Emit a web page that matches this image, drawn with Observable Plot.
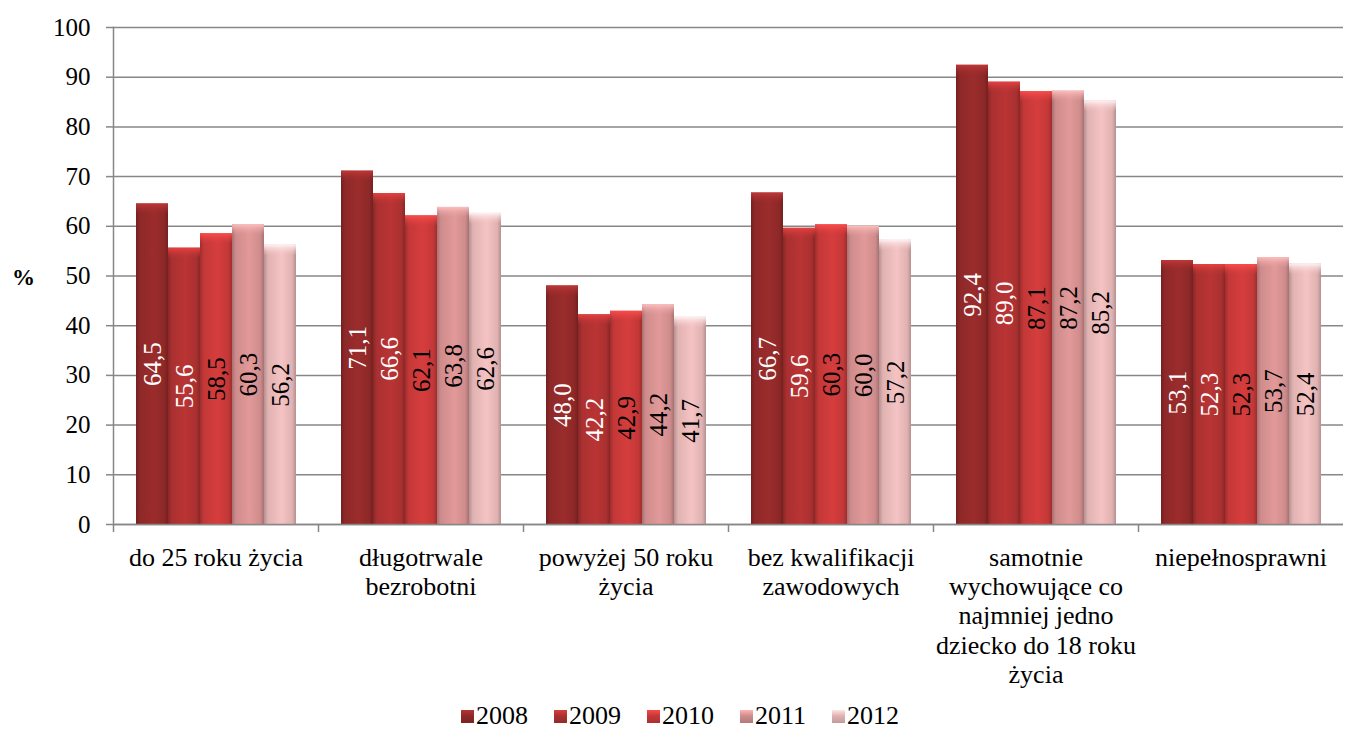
<!DOCTYPE html>
<html>
<head>
<meta charset="utf-8">
<script src="https://cdn.jsdelivr.net/npm/d3@7"></script>
<script src="https://cdn.jsdelivr.net/npm/@observablehq/plot@0.6"></script>
<style>
  html, body { margin: 0; padding: 0; background: #fff; overflow: hidden; }
  body { font-family: "Liberation Serif", "Times New Roman", Times, "DejaVu Serif", serif; }
  #wrap { position: relative; width: 1346px; }
  #pct { position: absolute; left: 12px; top: 265px; font-weight: bold; font-size: 23px; }
  #legend { display: flex; justify-content: center; align-items: center; gap: 26px; font-size: 26px; margin-top: 6px; padding-left: 14px; }
  #legend .item { display: flex; align-items: center; gap: 2px; }
  #legend .sw { width: 13px; height: 13px; display: inline-block; }
</style>
</head>
<body>
<svg width="0" height="0" style="position:absolute">
  <defs id="defs"></defs>
</svg>
<div id="wrap">
  <div id="chart"></div>
  <div id="pct">%</div>
  <div id="legend"></div>
</div>
<script>
// ---- data ----
const categories = [
  "do 25 roku życia",
  "długotrwale\nbezrobotni",
  "powyżej 50 roku\nżycia",
  "bez kwalifikacji\nzawodowych",
  "samotnie\nwychowujące co\nnajmniej jedno\ndziecko do 18 roku\nżycia",
  "niepełnosprawni"
];
const years = ["2008", "2009", "2010", "2011", "2012"];
const v2008 = [64.5, 71.1, 48.0, 66.7, 92.4, 53.1];
const v2009 = [55.6, 66.6, 42.2, 59.6, 89.0, 52.3];
const v2010 = [58.5, 62.1, 42.9, 60.3, 87.1, 52.3];
const v2011 = [60.3, 63.8, 44.2, 60.0, 87.2, 53.7];
const v2012 = [56.2, 62.6, 41.7, 57.2, 85.2, 52.4];
const yTicks = [0, 10, 20, 30, 40, 50, 60, 70, 80, 90, 100];

// ---- styles ----
const baseColors = {"2008": "#8e2828", "2009": "#aa3030", "2010": "#c43838", "2011": "#cf8c8c", "2012": "#e0b2b2"};
const labelColors = {"2008": "white", "2009": "white", "2010": "black", "2011": "black", "2012": "black"};
const gridColor = "#878787";
const serif = "'Liberation Serif', 'Times New Roman', Times, 'DejaVu Serif', serif";

const series = [v2008, v2009, v2010, v2011, v2012];
const data = [];
categories.forEach((c, i) => years.forEach((y, j) => data.push({cat: c, year: y, value: series[j][i]})));

// gradients
const defs = d3.select("#defs");
years.forEach(y => {
  const c = d3.color(baseColors[y]);
  const dark = c.darker(0.6).formatHex();
  const light = c.brighter(0.25).formatHex();
  const g = defs.append("linearGradient").attr("id", "g" + y).attr("x1", 0).attr("x2", 1).attr("y1", 0).attr("y2", 0);
  [[0, dark], [0.12, c.formatHex()], [0.55, light], [0.88, c.formatHex()], [1, dark]].forEach(([o, col]) =>
    g.append("stop").attr("offset", o).attr("stop-color", col));
  const t = defs.append("linearGradient").attr("id", "t" + y).attr("x1", 0).attr("x2", 0).attr("y1", 0).attr("y2", 1);
  t.append("stop").attr("offset", 0).attr("stop-color", c.brighter(0.9).formatHex()).attr("stop-opacity", 0.95);
  t.append("stop").attr("offset", 1).attr("stop-color", c.brighter(0.3).formatHex()).attr("stop-opacity", 0);
});

const fmt = v => v.toFixed(1).replace(".", ",");

const plot = Plot.plot({
  width: 1346,
  height: 695,
  marginLeft: 113,
  marginRight: 3,
  marginTop: 27,
  marginBottom: 171,
  style: {fontFamily: serif, fontSize: "24px", color: "#000", background: "transparent"},
  fx: {domain: categories, padding: 0, axis: null, label: null},
  x: {domain: years, paddingInner: 0, paddingOuter: 0.66, axis: null, label: null},
  y: {domain: [0, 100], axis: null, label: null},
  color: {type: "identity"},
  marks: [
    Plot.gridY({ticks: yTicks, stroke: gridColor, strokeOpacity: 1, strokeWidth: 1.5}),
    Plot.axisY({ticks: yTicks, label: null, tickSize: 7, tickPadding: 16, stroke: gridColor, strokeWidth: 1.5, fontSize: 25, fontFamily: serif, tickFormat: d => String(d)}),
    Plot.frame({anchor: "left", facetAnchor: "left", stroke: gridColor, strokeWidth: 1.5}),
    Plot.barY(data, {fx: "cat", x: "year", y: "value", fill: d => `url(#g${d.year})`}),
    Plot.barY(data, {fx: "cat", x: "year", y1: d => d.value - 2.2, y2: "value", fill: d => `url(#t${d.year})`}),
    Plot.ruleY([0], {stroke: gridColor, strokeWidth: 1.5}),
    Plot.text(data, {fx: "cat", x: "year", y: d => d.value / 2, text: d => fmt(d.value), rotate: -90, fill: d => labelColors[d.year], fontSize: 25, fontFamily: serif}),
    Plot.axisFx({anchor: "bottom", label: null, tickSize: 8, dx: -102.5, stroke: gridColor, strokeWidth: 1.5, tickFormat: () => ""}),
    Plot.axisFx({anchor: "bottom", label: null, tickSize: 0, tickPadding: 21, fontSize: 26, fontFamily: serif, lineHeight: 1.12, lineWidth: 100})
  ]
});
document.getElementById("chart").appendChild(plot);

// legend
const legend = d3.select("#legend");
years.forEach(y => {
  const c = d3.color(baseColors[y]);
  const item = legend.append("div").attr("class", "item");
  item.append("span").attr("class", "sw")
    .style("background", `linear-gradient(to bottom, ${c.brighter(0.7).formatHex()}, ${c.formatHex()} 45%, ${c.darker(0.4).formatHex()})`);
  item.append("span").text(y);
});
</script>
</body>
</html>
